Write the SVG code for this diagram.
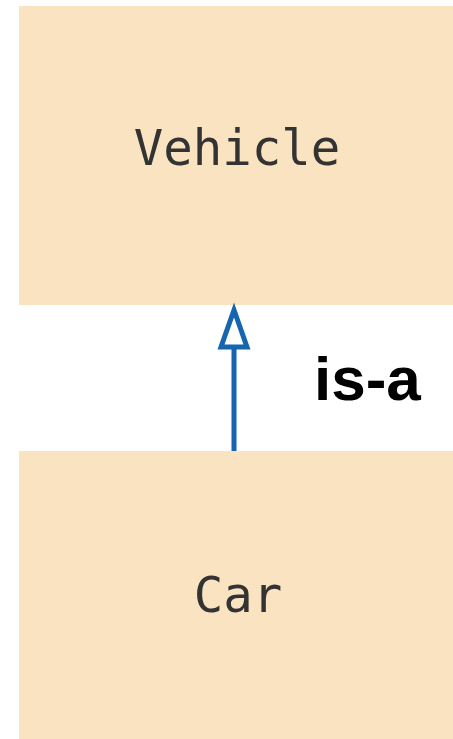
<svg xmlns="http://www.w3.org/2000/svg" width="453" height="739" viewBox="0 0 453 739">
  <style>
    .box { fill: #fae3c0; }
    .cls { font-family: "DejaVu Sans Mono", "Liberation Mono", monospace; font-size: 49px; fill: #333333; text-anchor: middle; }
    .rel { font-family: "Liberation Sans", Arial, sans-serif; font-weight: bold; font-size: 62px; fill: #000000; }
    .edge { stroke: #1565b0; stroke-width: 5; fill: none; }
    .head { stroke: #1565b0; stroke-width: 5; fill: #ffffff; stroke-linejoin: miter; }
  </style>
  <rect width="453" height="739" fill="#ffffff"/>
  <g id="vehicle">
    <rect class="box" x="19" y="6" width="434" height="299"/>
    <text class="cls" x="237" y="165">Vehicle</text>
  </g>
  <g id="car">
    <rect class="box" x="19" y="451" width="434" height="288"/>
    <text class="cls" x="238" y="612">Car</text>
  </g>
  <g id="connectors">
    <line class="edge" x1="234" y1="451" x2="234" y2="348"/>
    <polygon class="head" points="234,310 221,347 247,347"/>
    <text class="rel" x="314" y="400">is-a</text>
  </g>
</svg>
